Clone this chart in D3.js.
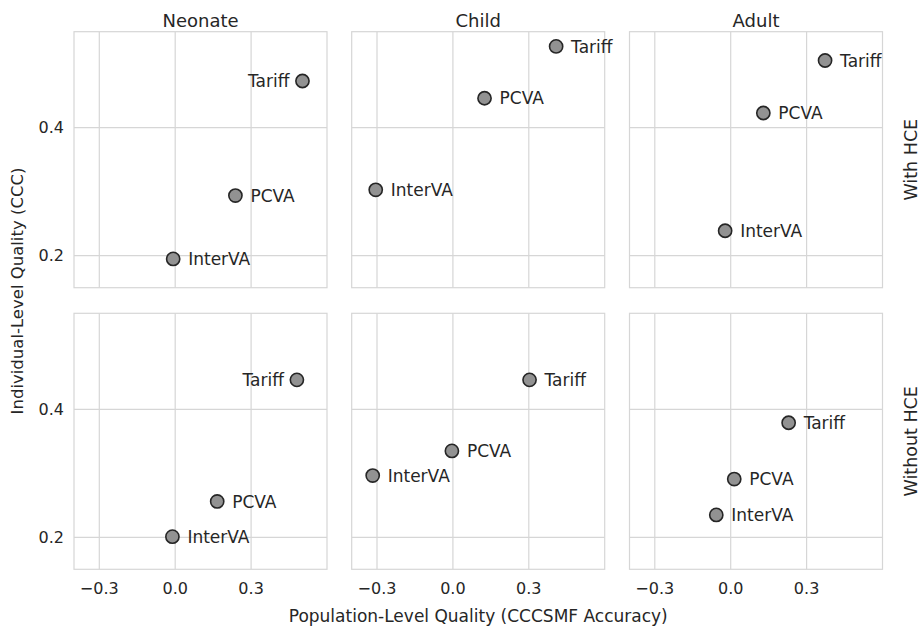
<!DOCTYPE html>
<html>
<head>
<meta charset="utf-8">
<script src="https://cdn.jsdelivr.net/npm/d3@7"></script>
<style>
  html, body { margin: 0; padding: 0; background: #fff; }
  svg text { font-family: "DejaVu Sans", sans-serif; fill: #262626; }
</style>
</head>
<body>
<svg id="chart" width="921" height="626"></svg>
<script>
// ---- data ----
const ageGroups = ["Neonate", "Child", "Adult"];
const hceRows = ["With HCE", "Without HCE"];
const methods = ["Tariff", "PCVA", "InterVA"];
// population-level quality (CCCSMF accuracy), per age group, per method
const csmfWithHCE = [
  [0.503, 0.238, -0.008],   // Neonate
  [0.408, 0.125, -0.305],   // Child
  [0.373, 0.129, -0.022]    // Adult
];
const cccWithHCE = [
  [0.473, 0.294, 0.195],
  [0.527, 0.446, 0.303],
  [0.505, 0.423, 0.239]
];
const csmfWithoutHCE = [
  [0.481, 0.166, -0.011],
  [0.303, -0.004, -0.317],
  [0.229, 0.014, -0.057]
];
const cccWithoutHCE = [
  [0.446, 0.256, 0.201],
  [0.446, 0.335, 0.2965],
  [0.379, 0.291, 0.235]
];
// label side: Tariff in Neonate panels is labelled on the left
const leftLabelled = [["Neonate", "Tariff"]];
const xTicks = [-0.3, 0.0, 0.3];
const yTicks = [0.2, 0.4];
const xDomain = [-0.4, 0.6];
const yDomain = [0.15, 0.55];

// ---- layout ----
const svg = d3.select("#chart");
const panelW = 253, panelH = 256;
const colX = [74, 351.7, 629.5];
const rowY = [31.7, 313.3];

const x = d3.scaleLinear().domain(xDomain).range([0, panelW]);
const y = d3.scaleLinear().domain(yDomain).range([panelH, 0]);

const rowsData = [
  { label: hceRows[0], xs: csmfWithHCE, ys: cccWithHCE },
  { label: hceRows[1], xs: csmfWithoutHCE, ys: cccWithoutHCE }
];

rowsData.forEach((row, ri) => {
  ageGroups.forEach((age, ci) => {
    const g = svg.append("g").attr("transform", `translate(${colX[ci]},${rowY[ri]})`);
    // grid
    g.selectAll("line.vx").data(xTicks).join("line")
      .attr("x1", d => x(d)).attr("x2", d => x(d))
      .attr("y1", 0).attr("y2", panelH)
      .attr("stroke", "#d6d6d6").attr("stroke-width", 1.2);
    g.selectAll("line.hy").data(yTicks).join("line")
      .attr("class", "hy")
      .attr("y1", d => y(d)).attr("y2", d => y(d))
      .attr("x1", 0).attr("x2", panelW)
      .attr("stroke", "#d6d6d6").attr("stroke-width", 1.2);
    // frame
    g.append("rect").attr("x", 0).attr("y", 0).attr("width", panelW).attr("height", panelH)
      .attr("fill", "none").attr("stroke", "#d6d6d6").attr("stroke-width", 1.2);

    // axes text
    if (ci === 0) {
      yTicks.forEach(t => {
        g.append("text").attr("x", -10).attr("y", y(t)).attr("dy", "0.36em")
          .attr("text-anchor", "end").style("font-size", "16px").text(d3.format(".1f")(t));
      });
    }
    if (ri === 1) {
      xTicks.forEach(t => {
        g.append("text").attr("x", x(t)).attr("y", panelH + 25)
          .attr("text-anchor", "middle").style("font-size", "16px")
          .text(d3.format(".1f")(t).replace("-", "\u2212"));
      });
    }
    if (ri === 0) {
      g.append("text").attr("x", panelW / 2).attr("y", -5)
        .attr("text-anchor", "middle").style("font-size", "18px").text(age);
    }
    if (ci === 2) {
      g.append("text")
        .attr("transform", `translate(${panelW + 28},${panelH / 2}) rotate(-90)`)
        .attr("text-anchor", "middle").attr("dy", "0.36em")
        .style("font-size", "17.5px").text(row.label);
    }

    // points
    const pts = methods.map((m, mi) => ({ m, vx: row.xs[ci][mi], vy: row.ys[ci][mi] }));
    g.selectAll("circle").data(pts).join("circle")
      .attr("cx", d => x(d.vx)).attr("cy", d => y(d.vy)).attr("r", 6.6)
      .attr("fill", "#929292").attr("stroke", "#262626").attr("stroke-width", 1.6);
    g.selectAll("text.lab").data(pts).join("text")
      .attr("class", "lab")
      .each(function (d) {
        const left = leftLabelled.some(p => p[0] === age && p[1] === d.m);
        d3.select(this)
          .attr("x", x(d.vx) + (left ? -13 : 15))
          .attr("y", y(d.vy)).attr("dy", "0.36em")
          .attr("text-anchor", left ? "end" : "start")
          .style("font-size", "17px").text(d.m);
      });
  });
});

// global axis labels
svg.append("text").attr("x", (colX[0] + colX[2] + panelW) / 2).attr("y", 622)
  .attr("text-anchor", "middle").style("font-size", "17px")
  .text("Population-Level Quality (CCCSMF Accuracy)");
svg.append("text")
  .attr("transform", `translate(23,291) rotate(-90)`)
  .attr("text-anchor", "middle").style("font-size", "16.5px")
  .text("Individual-Level Quality (CCC)");
</script>
</body>
</html>
